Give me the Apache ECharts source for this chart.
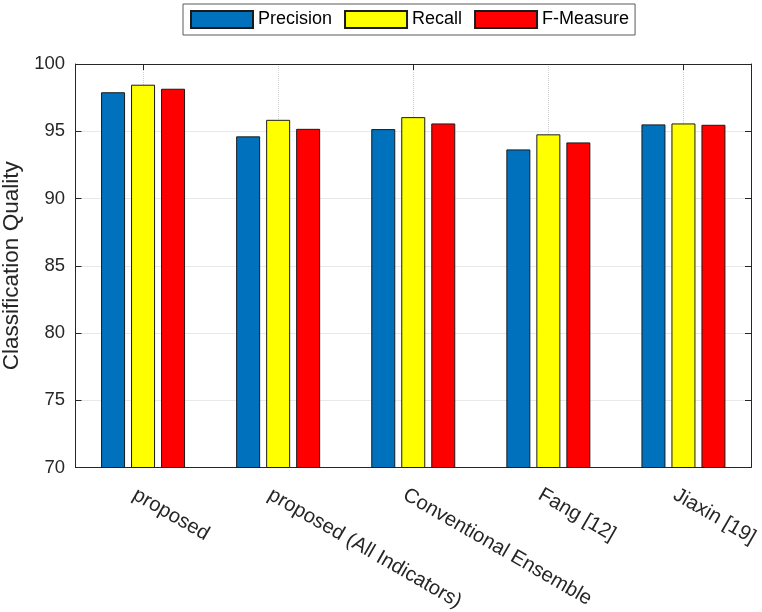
<!DOCTYPE html>
<html>
<head>
<meta charset="utf-8">
<script src="https://cdn.jsdelivr.net/npm/echarts@6/dist/echarts.min.js"></script>
<style>html,body{margin:0;padding:0;background:#fff;}#c{width:762px;height:612px;}</style>
</head>
<body>
<div id="c"></div>
<script>
const categories = ['proposed', 'proposed (All Indicators)', 'Conventional Ensemble', 'Fang [12]', 'Jiaxin [19]'];
const precision = [97.9, 94.62, 95.16, 93.65, 95.51];
const recall = [98.46, 95.85, 96.05, 94.77, 95.58];
const fMeasure = [98.16, 95.18, 95.58, 94.17, 95.48];
const yTicks = [70, 75, 80, 85, 90, 95, 100];

const font = 'Liberation Sans, Arial, Helvetica, sans-serif';
const axisColor = '#262626';
const edge = '#1a1a1a';

const chart = echarts.init(document.getElementById('c'), null, {renderer: 'canvas'});
function bar(name, data, color) {
  return {
    name: name, type: 'bar', data: data, barWidth: 24, barGap: '25%',
    xAxisIndex: 0, yAxisIndex: 0,
    itemStyle: {color: color, borderColor: edge, borderWidth: 1},
    emphasis: {disabled: true}
  };
}
chart.setOption({
  animation: false,
  backgroundColor: '#fff',
  textStyle: {fontFamily: font},
  legend: {
    left: 183, top: 4,
    padding: [6, 6, 6, 7],
    itemWidth: 62, itemHeight: 17, itemGap: 12,
    borderColor: '#5a5a5a', borderWidth: 1,
    icon: 'rect',
    textStyle: {fontSize: 18, color: '#000', fontFamily: font},
    data: ['Precision', 'Recall', 'F-Measure']
  },
  grid: {left: 75.5, right: 11, top: 64, bottom: 144.5, containLabel: false, outerBoundsMode: 'none'},
  xAxis: [{
    type: 'category', data: categories, position: 'bottom',
    axisLine: {show: true, lineStyle: {color: axisColor, width: 1}},
    axisTick: {show: true, inside: true, alignWithLabel: true, length: 6, lineStyle: {color: axisColor}},
    axisLabel: {rotate: -30, fontSize: 20.3, color: axisColor, margin: 31, interval: 0, fontFamily: font,
      padding: [0, 0, 0, -10]},
    splitLine: {show: true, alignWithLabel: true, lineStyle: {color: '#d0d0d0', type: 'dotted', width: 1}}
  }, {
    type: 'category', data: categories, position: 'top',
    axisLine: {show: true, lineStyle: {color: axisColor, width: 1}},
    axisTick: {show: true, inside: true, alignWithLabel: true, length: 6, lineStyle: {color: axisColor}},
    axisLabel: {show: false},
    splitLine: {show: false}
  }],
  yAxis: [{
    type: 'value', min: 70, max: 100, interval: 5, position: 'left',
    name: 'Classification Quality', nameLocation: 'middle', nameGap: 51,
    nameTextStyle: {fontSize: 22.5, color: axisColor, fontFamily: font},
    axisLine: {show: true, lineStyle: {color: axisColor, width: 1}},
    axisTick: {show: true, inside: true, length: 6, lineStyle: {color: axisColor}},
    axisLabel: {fontSize: 18.5, color: axisColor, margin: 10.5, fontFamily: font,
      formatter: function (v) { return yTicks.indexOf(v) >= 0 ? String(v) : ''; }},
    splitLine: {show: true, lineStyle: {color: '#d0d0d0', type: 'dotted', width: 1}}
  }, {
    type: 'value', min: 70, max: 100, interval: 5, position: 'right',
    axisLine: {show: true, lineStyle: {color: axisColor, width: 1}},
    axisTick: {show: true, inside: true, length: 6, lineStyle: {color: axisColor}},
    axisLabel: {show: false},
    splitLine: {show: false}
  }],
  series: [
    bar('Precision', precision, '#0072BD'),
    bar('Recall', recall, '#FFFF00'),
    bar('F-Measure', fMeasure, '#FF0000')
  ]
});
</script>
</body>
</html>
